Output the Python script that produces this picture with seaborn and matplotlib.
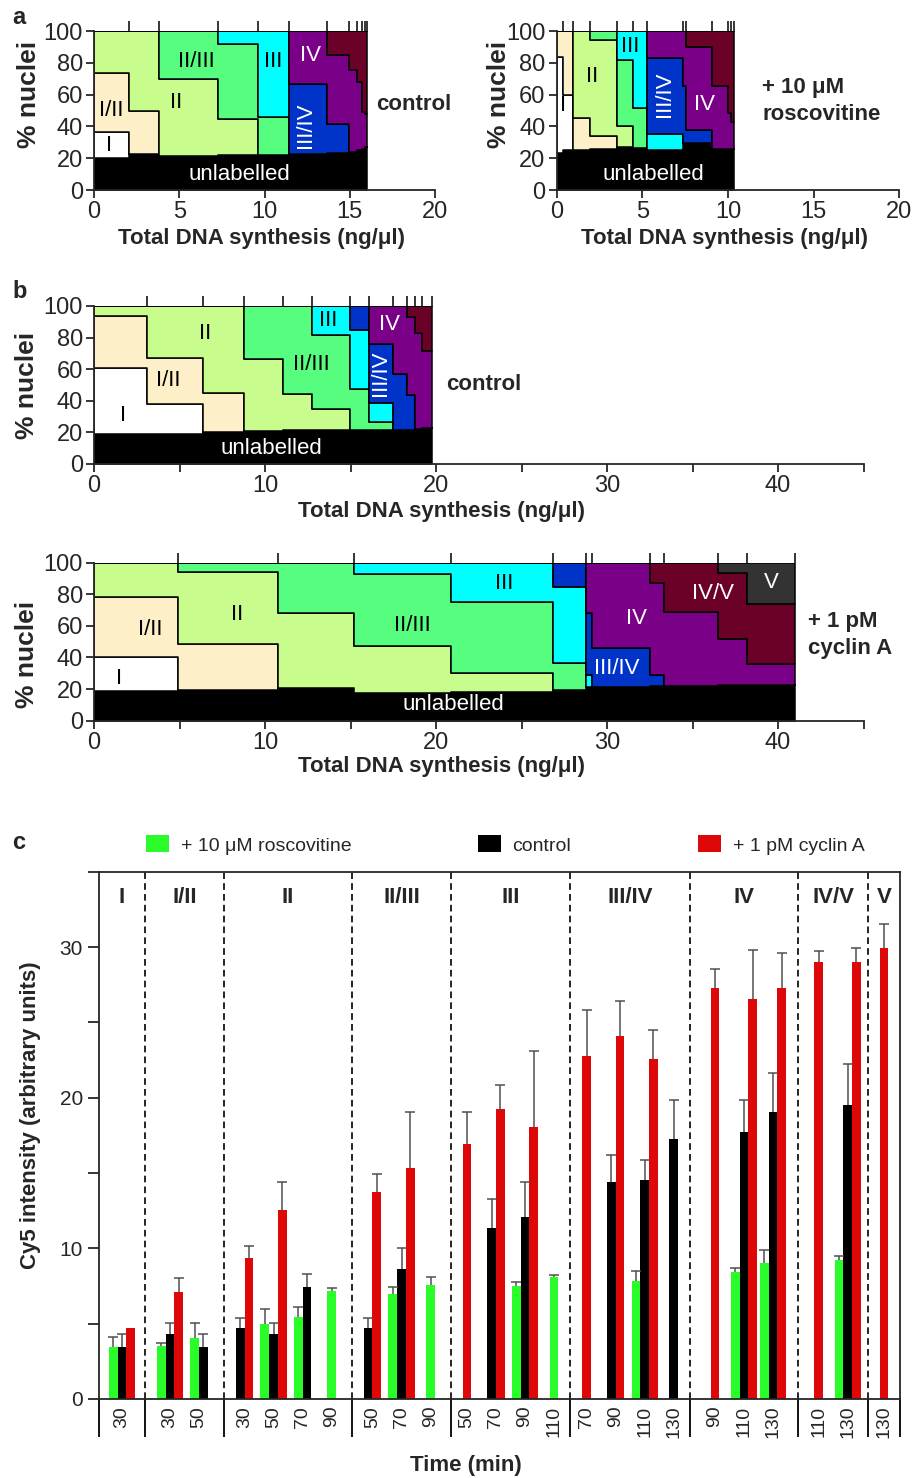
import numpy as np
import pandas as pd
import matplotlib
matplotlib.use('Agg')
import matplotlib.pyplot as plt
from matplotlib.patches import Patch
from matplotlib.ticker import MultipleLocator
import seaborn as sns

sns.set_style('ticks')
plt.rcParams['font.family'] = ['Liberation Sans', 'DejaVu Sans']
plt.rcParams['axes.linewidth'] = 1.3

# stages, bottom -> top of the stack
stages = ['unlabelled', 'I', 'I/II', 'II', 'II/III', 'III', 'III/IV', 'IV', 'IV/V', 'V']
stage_colors = {'unlabelled': '#000000', 'I': '#ffffff', 'I/II': '#fdf0c8', 'II': '#c8fc8c',
                'II/III': '#57fd7e', 'III': '#00ffff', 'III/IV': '#0033c8', 'IV': '#7a0088',
                'IV/V': '#6b0028', 'V': '#333333'}

# ---- panel a, control: column edges (cumulative DNA synthesis) and % nuclei per column
a_ctrl_edges = [0, 2.06, 3.79, 7.26, 9.59, 11.44, 13.68, 14.94, 15.43, 15.72, 15.91, 16.0]
a_ctrl_pct = {
    'unlabelled': [20, 22.4, 21.7, 22, 22, 22.4, 23.4, 24.1, 25.3, 26, 27],
    'I':      [16.3, 0, 0, 0, 0, 0, 0, 0, 0, 0, 0],
    'I/II':   [37.3, 27.4, 0, 0, 0, 0, 0, 0, 0, 0, 0],
    'II':     [26.4, 50.2, 48.1, 22.7, 0, 0, 0, 0, 0, 0, 0],
    'II/III': [0, 0, 30.2, 46.9, 24.2, 0, 0, 0, 0, 0, 0],
    'III':    [0, 0, 0, 8.4, 53.8, 0, 0, 0, 0, 0, 0],
    'III/IV': [0, 0, 0, 0, 0, 44.5, 18.4, 0, 0, 0, 0],
    'IV':     [0, 0, 0, 0, 0, 33.1, 43.4, 51.2, 42.7, 23, 21],
    'IV/V':   [0, 0, 0, 0, 0, 0, 14.8, 24.7, 32, 51, 52],
    'V':      [0, 0, 0, 0, 0, 0, 0, 0, 0, 0, 0],
}

# ---- panel a, + 10 uM roscovitine
a_rosc_edges = [0, 0.35, 0.97, 1.95, 3.5, 4.44, 5.29, 7.35, 7.55, 9.05, 9.98, 10.2, 10.35]
a_rosc_pct = {
    'unlabelled': [23.5, 25, 25.4, 25.8, 27.1, 26.3, 25.2, 29.5, 29.7, 26, 26, 26],
    'I':      [60, 34.7, 0, 0, 0, 0, 0, 0, 0, 0, 0, 0],
    'I/II':   [16.5, 40.3, 19.9, 8.5, 0, 0, 0, 0, 0, 0, 0, 0],
    'II':     [0, 0, 54.7, 60, 13.2, 0, 0, 0, 0, 0, 0, 0],
    'II/III': [0, 0, 0, 5.7, 41.7, 25, 0, 0, 0, 0, 0, 0],
    'III':    [0, 0, 0, 0, 18, 48.7, 10, 0, 0, 0, 0, 0],
    'III/IV': [0, 0, 0, 0, 0, 0, 47.8, 36, 8, 0, 0, 0],
    'IV':     [0, 0, 0, 0, 0, 0, 17, 34.5, 52.3, 39.3, 22.7, 16.8],
    'IV/V':   [0, 0, 0, 0, 0, 0, 0, 0, 10, 34.7, 51.3, 57.2],
    'V':      [0, 0, 0, 0, 0, 0, 0, 0, 0, 0, 0, 0],
}

# ---- panel b, control
b_ctrl_edges = [0, 3.08, 6.35, 8.77, 11.03, 12.73, 14.97, 16.1, 17.5, 18.32, 18.77, 19.16, 19.75]
b_ctrl_pct = {
    'unlabelled': [19, 19, 20.5, 20.9, 21.3, 21.3, 21.3, 21.5, 21.5, 21.7, 22.2, 22.6],
    'I':      [42, 19, 0, 0, 0, 0, 0, 0, 0, 0, 0, 0],
    'I/II':   [32.9, 29.1, 24.2, 0, 0, 0, 0, 0, 0, 0, 0, 0],
    'II':     [6.1, 32.9, 55.3, 45.6, 23, 13.7, 0, 0, 0, 0, 0, 0],
    'II/III': [0, 0, 0, 33.5, 55.7, 46.6, 26.4, 5.3, 0, 0, 0, 0],
    'III':    [0, 0, 0, 0, 0, 18.4, 37.1, 11.6, 0, 0, 0, 0],
    'III/IV': [0, 0, 0, 0, 0, 0, 15.2, 37.3, 35.3, 22, 0, 0],
    'IV':     [0, 0, 0, 0, 0, 0, 0, 24.3, 43.2, 49.1, 60.5, 49.1],
    'IV/V':   [0, 0, 0, 0, 0, 0, 0, 0, 0, 7.2, 17.3, 28.3],
    'V':      [0, 0, 0, 0, 0, 0, 0, 0, 0, 0, 0, 0],
}

# ---- panel b, + 1 pM cyclin A
b_cyc_edges = [0, 4.93, 10.78, 15.2, 20.86, 26.86, 28.77, 29.1, 32.5, 33.33, 36.5, 38.2, 41.0]
b_cyc_pct = {
    'unlabelled': [19, 19.4, 20.5, 17.7, 18.4, 19.4, 21.5, 21.5, 21.9, 22.2, 22.4, 22.8],
    'I':      [21.1, 0, 0, 0, 0, 0, 0, 0, 0, 0, 0, 0],
    'I/II':   [38.4, 29.1, 0, 0, 0, 0, 0, 0, 0, 0, 0, 0],
    'II':     [21.5, 45.8, 47.9, 29.6, 12, 0, 0, 0, 0, 0, 0, 0],
    'II/III': [0, 5.7, 31.6, 45.3, 44.9, 17.3, 0, 0, 0, 0, 0, 0],
    'III':    [0, 0, 0, 7.4, 24.7, 48.1, 7.4, 0, 0, 0, 0, 0],
    'III/IV': [0, 0, 0, 0, 0, 15.2, 39, 24.3, 7, 0, 0, 0],
    'IV':     [0, 0, 0, 0, 0, 0, 32.1, 54.2, 58, 46.7, 29.1, 13.1],
    'IV/V':   [0, 0, 0, 0, 0, 0, 0, 0, 13.1, 31.1, 42.2, 37.9],
    'V':      [0, 0, 0, 0, 0, 0, 0, 0, 0, 0, 6.3, 26.2],
}

# ---- panel c: Cy5 intensity per stage / time point
c_stages = ['I', 'I/II', 'II', 'II/III', 'III', 'III/IV', 'IV', 'IV/V', 'V']
c_times = [[30], [30, 50], [30, 50, 70, 90], [50, 70, 90], [50, 70, 90, 110],
           [70, 90, 110, 130], [90, 110, 130], [110, 130], [130]]
nan = np.nan
rosc_mean = [3.47, 3.54, 4.05, nan, 4.99, 5.44, 7.19, nan, 6.96, 7.57, nan, nan, 7.47, 8.08,
             nan, nan, 7.85, nan, nan, 8.43, 9.01, nan, 9.22, nan]
rosc_err = [0.63, 0.18, 0.99, nan, 0.96, 0.66, 0.2, nan, 0.48, 0.53, nan, nan, 0.28, 0.12,
            nan, nan, 0.63, nan, nan, 0.28, 0.89, nan, 0.3, nan]
ctrl_mean = [3.47, 4.28, 3.47, 4.71, 4.28, 7.44, nan, 4.71, 8.66, nan, nan, 11.34, 12.08, nan,
             nan, 14.43, 14.53, 17.24, nan, 17.72, 19.06, nan, 19.54, nan]
ctrl_err = [0.86, 0.76, 0.86, 0.68, 0.76, 0.86, nan, 0.68, 1.34, nan, nan, 1.95, 2.3, nan,
            nan, 1.75, 1.34, 2.61, nan, 2.13, 2.56, nan, 2.71, nan]
cyc_mean = [4.73, 7.09, nan, 9.34, 12.53, nan, nan, 13.77, 15.34, nan, 16.94, 19.24, 18.05, nan,
            22.78, 24.13, 22.56, nan, 27.27, 26.56, 27.32, 28.99, 28.99, 29.92]
cyc_err = [nan, 0.94, nan, 0.84, 1.88, nan, nan, 1.14, 3.72, nan, 2.12, 1.62, 5.04, nan,
           3.07, 2.28, 1.95, nan, 1.26, 3.26, 2.3, 0.78, 0.93, 1.65]

conds = ['+ 10 μM roscovitine', 'control', '+ 1 pM cyclin A']
cond_colors = {conds[0]: '#2afc2a', conds[1]: '#000000', conds[2]: '#de0808'}


def draw_stack(ax, edges, pct, xmax, major, minor, labels):
    mids = [(e0 + e1) / 2 for e0, e1 in zip(edges[:-1], edges[1:])]
    rows = []
    for st in stages:
        for m, v in zip(mids, pct[st]):
            rows.append({'x': m, 'pct': v, 'stage': st})
    df = pd.DataFrame(rows)
    sns.histplot(data=df, x='x', weights='pct', hue='stage', hue_order=stages[::-1],
                 palette=stage_colors, bins=list(edges), multiple='stack', element='step',
                 alpha=1, edgecolor='black', linewidth=1.1, legend=False, ax=ax)
    ax.set_xlim(0, xmax)
    ax.set_ylim(0, 100)
    ax.set_yticks([0, 20, 40, 60, 80, 100])
    ax.xaxis.set_major_locator(MultipleLocator(major))
    if minor:
        ax.xaxis.set_minor_locator(MultipleLocator(minor))
    ax.tick_params(axis='both', which='both', direction='out', length=6, width=1.3, labelsize=17, pad=2)
    sns.despine(ax=ax)
    ax.set_xlabel('Total DNA synthesis (ng/μl)', fontsize=16, fontweight='bold')
    ax.set_ylabel('% nuclei', fontsize=19, fontweight='bold')
    # column boundaries as ticks above the plot
    top = ax.twiny()
    top.set_xlim(0, xmax)
    top.set_xticks(edges[1:])
    top.tick_params(axis='x', direction='out', length=7, width=1.3, labeltop=False)
    for s in top.spines.values():
        s.set_visible(False)
    for txt, x, y, col, rot in labels:
        ax.text(x, y, txt, color=col, rotation=rot, ha='center', va='center', fontsize=16)
    ax.text(edges[-1] / 2 + 0.5, 10, 'unlabelled', color='white', ha='center', va='center', fontsize=16)


fig = plt.figure(figsize=(9.13, 14.78), dpi=100)

ax_a1 = fig.add_axes([0.1030, 0.8714, 0.3735, 0.1076])
ax_a2 = fig.add_axes([0.6097, 0.8714, 0.3752, 0.1076])
ax_b1 = fig.add_axes([0.1030, 0.6861, 0.8428, 0.1069])
ax_b2 = fig.add_axes([0.1030, 0.5124, 0.8428, 0.1069])
ax_c = fig.add_axes([0.1084, 0.0535, 0.8773, 0.3566])

draw_stack(ax_a1, a_ctrl_edges, a_ctrl_pct, 20, 5, None,
           [('I', 0.88, 27.8, 'black', 0), ('I/II', 1.03, 50, 'black', 0), ('II', 4.82, 55, 'black', 0),
            ('II/III', 6.0, 80.6, 'black', 0), ('III', 10.5, 80.6, 'black', 0),
            ('IV', 12.7, 84.4, 'white', 0), ('III/IV', 12.41, 40.5, 'white', 90)])
draw_stack(ax_a2, a_rosc_edges, a_rosc_pct, 20, 5, None,
           [('I', 0.39, 53, 'black', 0), ('II', 2.1, 71.6, 'black', 0), ('III', 4.32, 90, 'black', 0),
            ('III/IV', 6.32, 60.4, 'white', 90), ('IV', 8.66, 54, 'white', 0)])
draw_stack(ax_b1, b_ctrl_edges, b_ctrl_pct, 45, 10, 5,
           [('I', 1.68, 30.4, 'black', 0), ('I/II', 4.35, 52.7, 'black', 0), ('II', 6.5, 82.7, 'black', 0),
            ('II/III', 12.73, 62.7, 'black', 0), ('III', 13.7, 90.7, 'black', 0),
            ('IV', 17.27, 88, 'white', 0), ('III/IV', 16.78, 57.4, 'white', 90)])
draw_stack(ax_b2, b_cyc_edges, b_cyc_pct, 45, 10, 5,
           [('I', 1.48, 26.8, 'black', 0), ('I/II', 3.31, 57.4, 'black', 0), ('II', 8.38, 66.9, 'black', 0),
            ('II/III', 18.6, 60.5, 'black', 0), ('III', 24.0, 86.9, 'black', 0),
            ('III/IV', 30.57, 33.1, 'white', 0), ('IV', 31.7, 64.8, 'white', 0),
            ('IV/V', 36.2, 80.6, 'white', 0), ('V', 39.6, 87.3, 'white', 0)])

ax_a1.xaxis.set_label_coords(0.49, -0.24)
ax_a2.xaxis.set_label_coords(0.49, -0.24)
ax_b1.xaxis.set_label_coords(0.452, -0.235)
ax_b2.xaxis.set_label_coords(0.452, -0.225)
ax_a1.yaxis.set_label_coords(-0.155, 0.6)
ax_a2.yaxis.set_label_coords(-0.133, 0.6)
ax_b1.yaxis.set_label_coords(-0.072, 0.5)
ax_b2.yaxis.set_label_coords(-0.072, 0.42)

fig.text(414 / 913, 1 - 105 / 1478, 'control', ha='center', va='center', fontsize=16, fontweight='bold')
fig.text(762 / 913, 1 - 101 / 1478, '+ 10 μM\nroscovitine', ha='left', va='center', fontsize=16,
         fontweight='bold', linespacing=1.35)
fig.text(484 / 913, 1 - 385 / 1478, 'control', ha='center', va='center', fontsize=16, fontweight='bold')
fig.text(808 / 913, 1 - 635 / 1478, '+ 1 pM\ncyclin A', ha='left', va='center', fontsize=16,
         fontweight='bold', linespacing=1.35)

for lab, y in [('a', 18), ('b', 292), ('c', 843)]:
    fig.text(12 / 913, 1 - y / 1478, lab, ha='left', va='center', fontsize=17, fontweight='bold')

# ---- panel c
stage_pad = [0.59, 0.72, 0.41, 0.41, 0.10, 0.14, 0.72, 0.41, 0.10]
bw = 0.3
slot_x = []
bounds = [0.0]
pos = 0.0
for times, pad in zip(c_times, stage_pad):
    for j in range(len(times)):
        slot_x.append(pos + pad / 2 + 0.5 + j)
    pos += len(times) + pad
    bounds.append(pos)
time_labels = [str(t) for ts in c_times for t in ts]

means = {conds[0]: rosc_mean, conds[1]: ctrl_mean, conds[2]: cyc_mean}
errs = {conds[0]: rosc_err, conds[1]: ctrl_err, conds[2]: cyc_err}
rows = []
for i, xs in enumerate(slot_x):
    present = [c for c in conds if not np.isnan(means[c][i])]
    k = len(present)
    for j, c in enumerate(present):
        rows.append({'x': round(xs + (j - (k - 1) / 2) * bw, 4), 'y': means[c][i],
                     'err': errs[c][i], 'cond': c})
bars = pd.DataFrame(rows)

sns.barplot(data=bars, x='x', y='y', hue='cond', hue_order=conds, palette=cond_colors,
            native_scale=True, dodge=False, width=1.0, errorbar=None, legend=False,
            saturation=1, edgecolor='none', linewidth=0, ax=ax_c)
eb = bars.dropna(subset=['err'])
cont = ax_c.errorbar(eb['x'], eb['y'], yerr=[np.zeros(len(eb)), eb['err']], fmt='none',
                     ecolor='#505050', elinewidth=1.1, capsize=3.5, capthick=1.1, zorder=3)
# keep only the upper caps
for cl in cont.lines[1]:
    if np.allclose(cl.get_ydata(), eb['y'].values):
        cl.set_visible(False)

for b in bounds[1:-1]:
    ax_c.axvline(b, color='black', lw=1.2, ls=(0, (4, 2.5)), zorder=1)
ax_c.vlines(bounds, -0.072, 0, transform=ax_c.get_xaxis_transform(), color='black',
            lw=1.3, clip_on=False)
for st, b0, b1 in zip(c_stages, bounds[:-1], bounds[1:]):
    ax_c.text((b0 + b1) / 2, 33.3, st, ha='center', va='center', fontsize=16, fontweight='bold')

ax_c.set_xlim(0, bounds[-1])
ax_c.set_ylim(0, 35)
ax_c.set_yticks([0, 10, 20, 30])
ax_c.yaxis.set_minor_locator(MultipleLocator(5))
ax_c.set_xticks(slot_x)
ax_c.set_xticklabels(time_labels, rotation=90, fontsize=14)
ax_c.tick_params(axis='x', length=0, pad=5)
ax_c.tick_params(axis='y', which='both', direction='out', length=8, width=1.3, labelsize=15)
for s in ax_c.spines.values():
    s.set_visible(True)
ax_c.set_xlabel('Time (min)', fontsize=16, fontweight='bold')
ax_c.set_ylabel('Cy5 intensity (arbitrary units)', fontsize=16, fontweight='bold')
ax_c.xaxis.set_label_coords(0.458, -0.106)
ax_c.yaxis.set_label_coords(-0.072, 0.539)

handles = [Patch(facecolor=cond_colors[c], edgecolor='none', label=c) for c in conds]
fig.legend(handles=handles, loc='center', bbox_to_anchor=(505 / 913, 1 - 845 / 1478), ncol=3,
           frameon=False, fontsize=14, handlelength=1.2, handleheight=0.95,
           columnspacing=6.5, handletextpad=0.6)

fig.savefig('out.png', dpi=100)
